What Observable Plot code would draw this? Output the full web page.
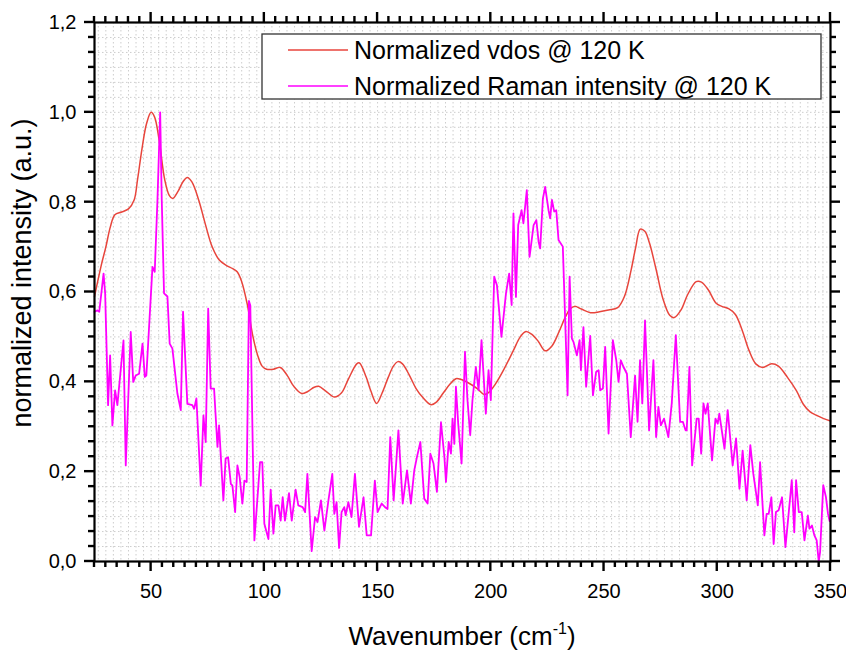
<!DOCTYPE html>
<html>
<head>
<meta charset="utf-8">
<script src="https://cdn.jsdelivr.net/npm/d3@7"></script>
<script src="https://cdn.jsdelivr.net/npm/@observablehq/plot@0.6"></script>
<style>
  html, body { margin: 0; padding: 0; background: #fff; }
  #chart { width: 846px; height: 653px; }
</style>
</head>
<body>
<div id="chart"></div>
<script>
// ---- Data ----
const vdosX = [25, 28, 30, 32, 34, 37, 40, 42.5, 44, 46, 48, 50, 51.5, 53.5, 56, 58, 59.5, 62, 64, 66, 68, 71, 74, 77, 80, 83, 86, 88, 90, 92.4, 95, 97, 99, 101, 104, 107, 110, 113, 116.5, 119, 122, 124, 127, 131, 134, 137, 140.8, 142, 145, 147, 149.6, 152, 154.7, 157, 159, 161, 164, 167, 170, 173.6, 176, 179, 182, 184.6, 187, 190, 194, 197, 199, 202, 206, 210, 213, 215.5, 218, 221, 224, 227, 230, 233, 235, 237, 240, 244, 248, 252, 256, 259, 262, 264, 266, 268, 270, 273, 276, 279, 281, 284, 287, 290.7, 293, 296, 299.5, 302, 305, 308, 311, 314, 317, 320, 324, 327, 331, 335, 338, 341, 344, 347, 350];
const vdosY = [0.59, 0.66, 0.70, 0.745, 0.772, 0.778, 0.785, 0.805, 0.85, 0.92, 0.975, 1.0, 0.99, 0.94, 0.85, 0.815, 0.808, 0.825, 0.845, 0.855, 0.845, 0.805, 0.75, 0.70, 0.672, 0.66, 0.652, 0.645, 0.623, 0.574, 0.50, 0.46, 0.435, 0.428, 0.428, 0.432, 0.415, 0.39, 0.374, 0.378, 0.388, 0.39, 0.38, 0.366, 0.375, 0.405, 0.44, 0.442, 0.41, 0.38, 0.352, 0.375, 0.41, 0.435, 0.445, 0.44, 0.415, 0.385, 0.365, 0.349, 0.355, 0.375, 0.395, 0.407, 0.405, 0.398, 0.385, 0.372, 0.376, 0.395, 0.43, 0.47, 0.50, 0.512, 0.506, 0.49, 0.469, 0.48, 0.51, 0.545, 0.562, 0.568, 0.562, 0.554, 0.556, 0.56, 0.565, 0.59, 0.65, 0.70, 0.74, 0.735, 0.71, 0.65, 0.585, 0.548, 0.543, 0.56, 0.595, 0.623, 0.622, 0.605, 0.575, 0.568, 0.563, 0.55, 0.515, 0.47, 0.44, 0.432, 0.44, 0.435, 0.41, 0.38, 0.35, 0.333, 0.325, 0.318, 0.313];

const ramanX = [25, 26.3, 27.1, 29, 29.7, 31, 31.9, 32.9, 34.1, 35.1, 37.8, 38.8, 41, 42.1, 43.2, 44.7, 46.2, 47.2, 47.9, 49.1, 50.6, 51.6, 52.8, 54, 54.7, 55.7, 57.2, 58.2, 59.4, 61.6, 63.1, 64.1, 66, 68.2, 69, 70, 71.9, 73.1, 74.1, 75.2, 76.3, 77.8, 79.3, 80, 81.9, 82.9, 84, 85.2, 85.9, 87.1, 88.1, 89.1, 90.3, 91.2, 92.2, 93.2, 93.8, 95.6, 98.1, 99.1, 100, 101.8, 102.8, 104, 105, 106.2, 107.2, 108.1, 109.1, 110.9, 112.1, 113.8, 115, 116.9, 118, 119, 120.9, 122.4, 123.5, 125, 126.5, 128.3, 130, 130.9, 131.9, 133, 134.1, 135.3, 135.9, 137.1, 138.5, 140, 141.8, 143.8, 145.2, 147.1, 148.8, 150, 151.8, 153.3, 154.4, 155.6, 157.1, 159.2, 161.1, 163, 164.7, 166.2, 167.4, 168.9, 170.6, 172.1, 173.3, 174.7, 176.2, 178, 179.5, 180.2, 181.4, 182.4, 183.1, 183.9, 184.6, 185.6, 187.1, 188.6, 189.7, 190.9, 191.9, 193.4, 194.6, 195.9, 197.8, 199, 200, 201.5, 202.7, 204.7, 206.7, 208.1, 209.2, 210, 211.1, 212.1, 213.6, 214.4, 215.9, 217.1, 218.9, 220.1, 221.1, 221.8, 223, 224, 225.5, 226.2, 227, 228, 228.9, 229.9, 231.8, 233.9, 234.8, 235.8, 236.5, 238, 239.2, 239.8, 240.9, 242.1, 243.9, 245.1, 246.5, 247.6, 248.3, 249.5, 250.5, 252, 253.9, 255.4, 256.4, 257.4, 258.6, 260.1, 261.8, 263.7, 264.8, 265.9, 266.9, 268.1, 269.9, 271.8, 273, 274, 275.1, 276.5, 278.4, 279.9, 281.7, 283.6, 284.8, 286, 286.5, 287.7, 288.9, 290.9, 291.8, 292.9, 293.9, 294.8, 295.8, 297.7, 299.2, 300.2, 300.9, 303.2, 304.6, 306.8, 308.3, 309.8, 311.2, 313, 314.6, 315.9, 317.9, 318.9, 320.8, 321.8, 322.7, 323.9, 324.9, 325.9, 327.1, 328.6, 330.1, 331.5, 332.9, 334, 334.8, 336, 337.3, 338.5, 340, 340.7, 341.8, 342.9, 343.9, 344.8, 345.4, 346.8, 348, 348.9, 349.6];
const ramanY = [0.556, 0.559, 0.556, 0.641, 0.597, 0.348, 0.459, 0.303, 0.381, 0.348, 0.492, 0.214, 0.511, 0.40, 0.414, 0.418, 0.485, 0.411, 0.414, 0.522, 0.656, 0.645, 0.805, 1.0, 0.805, 0.597, 0.59, 0.485, 0.474, 0.374, 0.337, 0.556, 0.351, 0.348, 0.340, 0.363, 0.169, 0.325, 0.266, 0.563, 0.385, 0.385, 0.255, 0.303, 0.136, 0.229, 0.232, 0.173, 0.169, 0.110, 0.214, 0.188, 0.129, 0.18, 0.177, 0.58, 0.57, 0.047, 0.221, 0.221, 0.084, 0.05, 0.16, 0.062, 0.125, 0.125, 0.091, 0.143, 0.091, 0.152, 0.091, 0.16, 0.125, 0.121, 0.11, 0.195, 0.023, 0.099, 0.088, 0.136, 0.069, 0.136, 0.195, 0.106, 0.132, 0.03, 0.11, 0.121, 0.103, 0.132, 0.099, 0.195, 0.077, 0.143, 0.058, 0.058, 0.18, 0.11, 0.129, 0.121, 0.117, 0.277, 0.136, 0.292, 0.129, 0.203, 0.129, 0.203, 0.233, 0.266, 0.14, 0.129, 0.24, 0.218, 0.155, 0.31, 0.233, 0.177, 0.266, 0.24, 0.318, 0.262, 0.389, 0.307, 0.218, 0.467, 0.359, 0.281, 0.359, 0.433, 0.381, 0.493, 0.329, 0.426, 0.359, 0.634, 0.615, 0.5, 0.597, 0.641, 0.571, 0.775, 0.589, 0.749, 0.782, 0.753, 0.827, 0.678, 0.749, 0.76, 0.712, 0.697, 0.808, 0.834, 0.782, 0.764, 0.805, 0.779, 0.782, 0.716, 0.701, 0.37, 0.634, 0.496, 0.489, 0.459, 0.493, 0.426, 0.522, 0.389, 0.502, 0.37, 0.422, 0.426, 0.381, 0.385, 0.478, 0.285, 0.493, 0.448, 0.4, 0.448, 0.433, 0.418, 0.277, 0.414, 0.311, 0.448, 0.352, 0.537, 0.292, 0.448, 0.277, 0.344, 0.303, 0.318, 0.277, 0.352, 0.504, 0.311, 0.311, 0.292, 0.292, 0.433, 0.214, 0.318, 0.318, 0.24, 0.352, 0.329, 0.352, 0.225, 0.318, 0.307, 0.329, 0.251, 0.337, 0.214, 0.274, 0.162, 0.247, 0.136, 0.259, 0.196, 0.125, 0.221, 0.058, 0.106, 0.106, 0.143, 0.039, 0.11, 0.114, 0.143, 0.032, 0.106, 0.181, 0.065, 0.181, 0.11, 0.11, 0.047, 0.102, 0.073, 0.08, 0.058, 0.047, 0.0, 0.021, 0.17, 0.143, 0.106, 0.09];

const xMajorTicks = [50, 100, 150, 200, 250, 300, 350];
const yMajorTicks = [0, 0.2, 0.4, 0.6, 0.8, 1.0, 1.2];
const seriesNames = ["Normalized vdos @ 120 K", "Normalized Raman intensity @ 120 K"];
const seriesColors = ["#e8453c", "#ff00ff"];
const xTitle = "Wavenumber (cm";
const xTitleSup = "-1";
const yTitle = "normalized intensity (a.u.)";

// ---- Derived ----
const vdos = vdosX.map((x, i) => ({x, y: vdosY[i]}));
const raman = ramanX.map((x, i) => ({x, y: ramanY[i]}));
const xMinorTicks = d3.range(25, 351, 5).filter(v => v % 50 !== 0);
const yMinorTicks = d3.range(1, 36).map(i => i / 30).filter(v => Math.abs(v * 5 - Math.round(v * 5)) > 1e-6);
const xGrid = d3.range(-7, 91).map(k => 50 + k * 10 / 3).filter(v => v > 25.5 && v < 349.5);
const yGrid = d3.range(1, 36).map(i => i / 30);
const fmtY = d => d.toFixed(1).replace(".", ",");

const W = 846, H = 653;
const mL = 94, mR = 16, mT = 22, mB = 92;
const xDom = [25, 350], yDom = [0, 1.2];

const chart = Plot.plot({
  width: W, height: H,
  marginLeft: mL, marginRight: mR, marginTop: mT, marginBottom: mB,
  x: {domain: xDom},
  y: {domain: yDom},
  style: {fontFamily: "'Liberation Sans', Arial, sans-serif", fontSize: "20px", background: "#fff", color: "#000", overflow: "visible"},
  marks: [
    Plot.ruleX(xGrid, {stroke: "#cdcdcd", strokeWidth: 1, strokeDasharray: "1.5,2.5"}),
    Plot.ruleY(yGrid, {stroke: "#cdcdcd", strokeWidth: 1, strokeDasharray: "1.5,2.5"}),
    Plot.line(vdos, {x: "x", y: "y", stroke: seriesColors[0], strokeWidth: 1.5, curve: "catmull-rom"}),
    Plot.line(raman, {x: "x", y: "y", stroke: seriesColors[1], strokeWidth: 1.8}),
    Plot.frame({stroke: "#000", strokeWidth: 2.2}),
    Plot.axisX({anchor: "bottom", ticks: xMajorTicks, tickSize: 0, tickPadding: 22, tickFormat: d => String(d), fontSize: 20, label: null}),
    Plot.axisY({anchor: "left", ticks: yMajorTicks, tickSize: 0, tickPadding: 18, tickFormat: fmtY, fontSize: 20, label: null})
  ]
});

document.getElementById("chart").appendChild(chart);

// ---- Ticks on all four sides (drawn with Plot's own scales) ----
const svg = d3.select(chart);
const sx = chart.scale("x"), sy = chart.scale("y");
const x0 = sx.apply(xDom[0]), x1 = sx.apply(xDom[1]);
const y0 = sy.apply(yDom[0]), y1 = sy.apply(yDom[1]);
const tg = svg.append("g").attr("stroke", "#000").attr("stroke-width", 2.4).attr("stroke-linecap", "butt");
function tickH(v, len) {
  const px = sx.apply(v);
  tg.append("line").attr("x1", px).attr("x2", px).attr("y1", y0).attr("y2", y0 + len);
  tg.append("line").attr("x1", px).attr("x2", px).attr("y1", y1).attr("y2", y1 - len);
}
function tickV(v, len) {
  const py = sy.apply(v);
  tg.append("line").attr("y1", py).attr("y2", py).attr("x1", x0).attr("x2", x0 - len);
  tg.append("line").attr("y1", py).attr("y2", py).attr("x1", x1).attr("x2", x1 + len);
}
xMajorTicks.forEach(v => tickH(v, 10));
xMinorTicks.forEach(v => tickH(v, 6));
yMajorTicks.forEach(v => tickV(v, 10));
yMinorTicks.forEach(v => tickV(v, 6));

// ---- Titles and legend ----
const ff = "'Liberation Sans', Arial, sans-serif";

const xt = svg.append("text")
  .attr("x", (mL + W - mR) / 2)
  .attr("y", 645)
  .attr("text-anchor", "middle")
  .attr("font-family", ff)
  .attr("font-size", 26)
  .attr("fill", "#000");
xt.append("tspan").text(xTitle);
xt.append("tspan").attr("dy", -11).attr("font-size", 16).text(xTitleSup);
xt.append("tspan").attr("dy", 11).text(")");

svg.append("text")
  .attr("transform", `translate(31, 273) rotate(-90)`)
  .attr("text-anchor", "middle")
  .attr("font-family", ff)
  .attr("font-size", 27)
  .attr("fill", "#000")
  .text(yTitle);

const lg = svg.append("g");
lg.append("rect")
  .attr("x", 262).attr("y", 34).attr("width", 559).attr("height", 65)
  .attr("fill", "#fff").attr("stroke", "#333").attr("stroke-width", 1.3);
seriesNames.forEach((name, i) => {
  const cy = 50 + i * 36;
  lg.append("line")
    .attr("x1", 288).attr("x2", 348).attr("y1", cy).attr("y2", cy)
    .attr("stroke", seriesColors[i]).attr("stroke-width", 1.6);
  lg.append("text")
    .attr("x", 354).attr("y", cy).attr("dy", "0.35em")
    .attr("text-anchor", "start")
    .attr("font-family", ff).attr("font-size", 25).attr("fill", "#000")
    .text(name);
});
</script>
</body>
</html>
